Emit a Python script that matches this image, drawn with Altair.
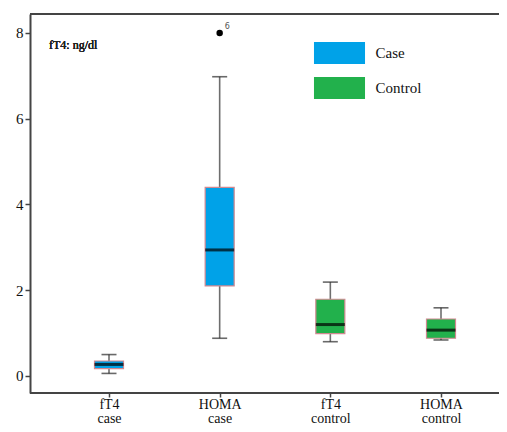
import altair as alt
import pandas as pd

categories = ["fT4 case", "HOMA case", "fT4 control", "HOMA control"]
groups = ["Case", "Case", "Control", "Control"]
whisker_low = [0.06, 0.88, 0.80, 0.84]
q1 = [0.17, 2.10, 0.99, 0.88]
median = [0.27, 2.94, 1.20, 1.07]
q3 = [0.35, 4.40, 1.79, 1.33]
whisker_high = [0.50, 6.98, 2.19, 1.59]
outlier_cat = ["HOMA case"]
outlier_val = [8.0]
outlier_label = ["6"]
group_names = ["Case", "Control"]
group_colors = ["#00A2E8", "#22B14C"]
y_ticks = [0, 2, 4, 6, 8]

df = pd.DataFrame({
    "cat": categories, "group": groups, "low": whisker_low, "q1": q1,
    "med": median, "q3": q3, "high": whisker_high,
})
out = pd.DataFrame({"cat": outlier_cat, "val": outlier_val, "lab": outlier_label})

SERIF = "Liberation Serif"
W, H = 469, 379
FRAME = "#444"

x_enc = alt.X(
    "cat:N", sort=categories,
    scale=alt.Scale(type="point", range=[79, 411], padding=0),
    axis=alt.Axis(
        title=None, labelAngle=0, domain=False, ticks=True, tickSize=4,
        tickColor=FRAME, tickWidth=1.5,
        labelFont=SERIF, labelFontSize=14, labelColor="#111",
        labelLineHeight=14, labelPadding=0,
        labelExpr="split(datum.label, ' ')",
    ),
)
y_scale = alt.Scale(domain=[-0.3965, 8.443], nice=False, zero=False)
y_axis = alt.Axis(
    title=None, values=y_ticks, grid=False, domain=True, domainColor=FRAME,
    domainWidth=2, tickSize=5, tickColor=FRAME, tickWidth=1.5,
    labelFont=SERIF, labelFontSize=15, labelColor="#111", labelPadding=2,
)

base = alt.Chart(df)

whisk = base.mark_rule(color="#6e6e6e", strokeWidth=1.6).encode(
    x=x_enc, y=alt.Y("low:Q", scale=y_scale, axis=y_axis), y2="high:Q"
)
cap_lo = base.mark_tick(size=15, thickness=1.6, color="#2a2a2a").encode(
    x=x_enc, y=alt.Y("low:Q", scale=y_scale)
)
cap_hi = base.mark_tick(size=15, thickness=1.6, color="#2a2a2a").encode(
    x=x_enc, y=alt.Y("high:Q", scale=y_scale)
)
box = base.mark_bar(size=29, stroke="#d08890", strokeWidth=1.2, opacity=1).encode(
    x=x_enc, y=alt.Y("q1:Q", scale=y_scale), y2="q3:Q",
    color=alt.Color(
        "group:N",
        scale=alt.Scale(domain=group_names, range=group_colors),
        legend=alt.Legend(
            title=None, orient="none", legendX=298.5, legendY=28, padding=0,
            symbolType="M-2.32,-1L2.32,-1L2.32,1L-2.32,1Z", symbolSize=484,
            symbolStrokeWidth=0, symbolOpacity=1, labelOffset=25, rowPadding=13,
            labelFont=SERIF, labelFontSize=15, labelColor="#111",
        ),
    ),
)
med = base.mark_tick(size=29, thickness=3, color="#000").encode(
    x=x_enc, y=alt.Y("med:Q", scale=y_scale)
)
pt = alt.Chart(out).mark_point(filled=True, color="#000", size=42, opacity=1).encode(
    x=x_enc, y=alt.Y("val:Q", scale=y_scale)
)
pt_lab = alt.Chart(out).mark_text(
    align="left", baseline="middle", dx=5, dy=-6, fontSize=8,
    font="DejaVu Sans", color="#555"
).encode(x=x_enc, y=alt.Y("val:Q", scale=y_scale), text="lab:N")
note = alt.Chart(df).mark_text(
    text="fT4: ng/dl", align="left", baseline="middle", font=SERIF,
    fontSize=12, color="#222", fontWeight="normal"
).encode(x=alt.value(19), y=alt.value(31))
top_line = alt.Chart(df).mark_rule(color=FRAME, strokeWidth=2).encode(
    x=alt.value(0), x2=alt.value(W), y=alt.value(0)
)
bottom_line = alt.Chart(df).mark_rule(color=FRAME, strokeWidth=2).encode(
    x=alt.value(0), x2=alt.value(W), y=alt.value(H)
)

chart = alt.layer(
    whisk, cap_lo, cap_hi, box, med, pt, pt_lab, note, top_line, bottom_line
).properties(
    width=W, height=H,
    autosize=alt.AutoSizeParams(type="none"),
    padding={"left": 22, "top": 6, "right": 0, "bottom": 31},
).configure_view(stroke=None)

chart.save("out.html", embed_options={"renderer": "svg", "actions": False})
